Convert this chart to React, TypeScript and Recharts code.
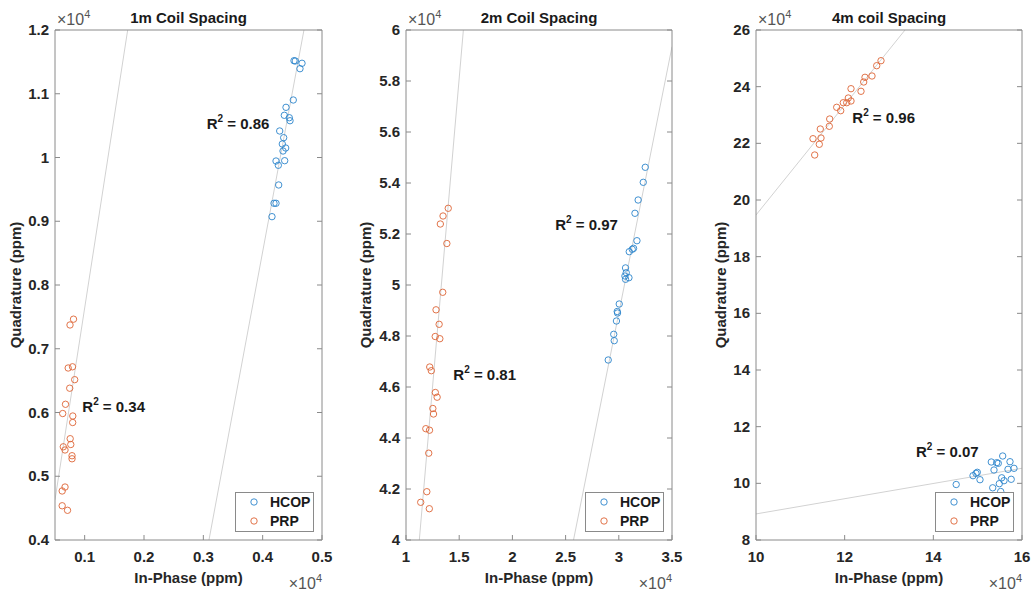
import React from 'react';
import {
  ScatterChart,
  Scatter,
  XAxis,
  YAxis,
  ReferenceLine,
  ReferenceDot,
  Legend
} from 'recharts';

const font = '"Liberation Sans", Arial, Helvetica, sans-serif';
const textColor = '#262626';
const axisColor = '#8a8a8a';
const hcopColor = '#2b84cc';
const prpColor = '#de6436';
const fitColor = '#d2d2d2';

const seriesNames = ['HCOP', 'PRP'];
const panelTitles = ['1m Coil Spacing', '2m Coil Spacing', '4m coil Spacing'];

// 1m coil spacing
const hcop1mX = [4528, 4550, 4663, 4629, 4516, 4393, 4365, 4449, 4461, 4287, 4354, 4331, 4388, 4343, 4371, 4225, 4264, 4270, 4191, 4225, 4157];
const hcop1mY = [11518, 11514, 11478, 11393, 10902, 10787, 10662, 10624, 10577, 10416, 10311, 10212, 10149, 10102, 9950, 9945, 9878, 9569, 9282, 9282, 9072];
const prp1mX = [812, 753, 795, 722, 832, 748, 677, 630, 800, 798, 756, 766, 640, 669, 787, 787, 669, 621, 621, 711];
const prp1mY = [7464, 7373, 6717, 6698, 6515, 6381, 6129, 5984, 5945, 5843, 5589, 5498, 5462, 5412, 5322, 5274, 4831, 4769, 4537, 4466];
const fit1mHcop = [{ x: 3095, y: 4000 }, { x: 4696, y: 12000 }];
const fit1mPrp = [{ x: 500, y: 4630 }, { x: 1725, y: 12000 }];
const ticks1mX = [1000, 2000, 3000, 4000, 5000];
const ticks1mY = [4000, 5000, 6000, 7000, 8000, 9000, 10000, 11000, 12000];

// 2m coil spacing
const hcop2mX = [32487, 32299, 31818, 31518, 31706, 31387, 31264, 30982, 30634, 30700, 30954, 30577, 30634, 30041, 29853, 29881, 29778, 29524, 29571, 29006];
const hcop2mY = [54616, 54027, 53333, 52812, 51737, 51439, 51400, 51306, 50670, 50482, 50286, 50353, 50224, 49255, 48961, 48902, 48588, 48067, 47816, 47059];
const prp2mX = [13971, 13481, 13227, 13839, 13453, 12823, 13114, 12747, 13180, 12230, 12380, 12757, 12926, 12522, 12587, 11863, 12211, 12136, 11957, 11383, 12192];
const prp2mY = [53008, 52706, 52392, 51627, 49714, 49027, 48459, 47980, 47894, 46784, 46639, 45784, 45600, 45157, 44941, 44365, 44306, 43404, 41894, 41478, 41227];
const fit2mHcop = [{ x: 25743, y: 40000 }, { x: 35000, y: 59345 }];
const fit2mPrp = [{ x: 11252, y: 40000 }, { x: 15392, y: 60000 }];
const ticks2mX = [10000, 15000, 20000, 25000, 30000, 35000];
const ticks2mY = [40000, 42000, 44000, 46000, 48000, 50000, 52000, 54000, 56000, 58000, 60000];

// 4m coil spacing
const hcop4mX = [155646, 157292, 153075, 154293, 154654, 153683, 156841, 158194, 149917, 149623, 148947, 150525, 155421, 155939, 157564, 154879, 145157, 153391, 155195];
const hcop4mY = [109648, 107636, 107530, 107283, 107071, 104706, 104953, 105306, 103894, 103541, 102694, 101283, 101953, 100930, 101424, 99871, 99587, 98424, 97119];
const prp4mX = [128195, 127225, 126165, 124586, 124293, 123684, 121428, 120819, 121428, 120458, 119691, 118203, 119105, 116624, 116534, 114503, 112857, 114661, 114278, 113240];
const prp4mY = [249165, 247400, 243765, 243306, 241647, 238365, 239282, 236000, 234941, 234341, 234341, 232718, 231518, 228588, 226012, 225059, 221635, 221882, 219659, 215882];
const fit4mHcop = [{ x: 100000, y: 89200 }, { x: 160000, y: 105320 }];
const fit4mPrp = [{ x: 100000, y: 194710 }, { x: 133614, y: 260000 }];
const ticks4mX = [100000, 120000, 140000, 160000];
const ticks4mY = [80000, 100000, 120000, 140000, 160000, 180000, 200000, 220000, 240000, 260000];

// R² annotations: value, x, y (data units)
const r2Text = [['0.86', '0.34'], ['0.97', '0.81'], ['0.96', '0.07']];
const r2X = [[3057, 960], [24020, 14451], [121722, 136090]];
const r2Y = [[10447, 6013], [52157, 46275], [227071, 109400]];

const zip = (xs: number[], ys: number[]) => xs.map((x, i) => ({ x, y: ys[i] }));
const fmt = (v: number) => String(+(v / 1e4).toFixed(2));

const BottomTick = (p: any) => (
  <g>
    <line x1={p.x} y1={p.y} x2={p.x} y2={p.y - 5} stroke={axisColor} />
    <text x={p.x} y={p.y + 22} textAnchor="middle" fontFamily={font} fontWeight="bold" fontSize={15} fill={textColor}>
      {fmt(p.payload.value)}
    </text>
  </g>
);
const TopTick = (p: any) => <line x1={p.x} y1={p.y} x2={p.x} y2={p.y + 5} stroke={axisColor} />;
const LeftTick = (p: any) => (
  <g>
    <line x1={p.x} y1={p.y} x2={p.x + 5} y2={p.y} stroke={axisColor} />
    <text x={p.x - 6} y={p.y + 5} textAnchor="end" fontFamily={font} fontWeight="bold" fontSize={15} fill={textColor}>
      {fmt(p.payload.value)}
    </text>
  </g>
);
const RightTick = (p: any) => <line x1={p.x} y1={p.y} x2={p.x - 5} y2={p.y} stroke={axisColor} />;

const Ring = (color: string) => (p: any) => (
  <circle cx={p.cx} cy={p.cy} r={3.2} fill="none" stroke={color} strokeWidth={0.9} />
);

const R2 = (value: string) => (p: any) => (
  <text x={p.cx} y={p.cy} fontFamily={font} fontWeight="bold" fontSize={15} fill="#1a1a1a">
    R<tspan dy={-7} fontSize={10}>2</tspan>
    <tspan dy={7}>{' = ' + value}</tspan>
  </text>
);

const LegendBox = () => (
  <svg width={79} height={40}>
    <rect x={0.5} y={0.5} width={78} height={39} fill="#fff" stroke={axisColor} />
    {seriesNames.map((name, i) => (
      <g key={name}>
        <circle cx={19} cy={10 + i * 19} r={3.2} fill="none" stroke={i === 0 ? hcopColor : prpColor} strokeWidth={0.9} />
        <text x={35} y={15 + i * 19} fontFamily={font} fontWeight="bold" fontSize={14} fill="#1a1a1a">
          {name}
        </text>
      </g>
    ))}
  </svg>
);

const Times10 = ({ x, y, anchor }: { x: number; y: number; anchor: 'start' | 'end' }) => (
  <text x={x} y={y} textAnchor={anchor} fontFamily={font} fontSize={16} fill="#555">
    ×10<tspan dy={-7} fontSize={11}>4</tspan>
  </text>
);

type PanelProps = {
  idx: number;
  left: number;
  width: number;
  plot: { top: number; right: number; bottom: number; left: number };
  xDomain: [number, number];
  yDomain: [number, number];
  xTicks: number[];
  yTicks: number[];
  hcop: { x: number; y: number }[];
  prp: { x: number; y: number }[];
  fits: { x: number; y: number }[][];
  yLabelGap: number;
};

const Panel = (props: PanelProps) => {
  const { idx, left, width, plot, xDomain, yDomain, xTicks, yTicks, hcop, prp, fits, yLabelGap } = props;
  const height = 592;
  // every axis takes 1px, so the margins are one pixel smaller than the plot insets
  const margin = { top: plot.top - 1, right: plot.right - 1, bottom: plot.bottom - 1, left: plot.left - 1 };
  const plotW = width - plot.left - plot.right;
  const plotBottom = height - plot.bottom;
  const cx = plot.left + plotW / 2;
  const cy = plot.top + (plotBottom - plot.top) / 2;
  return (
    <div style={{ position: 'absolute', left, top: 0, width, height }}>
      <ScatterChart width={width} height={height} margin={margin}>
        <XAxis type="number" dataKey="x" domain={xDomain} ticks={xTicks} interval={0} allowDataOverflow
          height={1} tickSize={0} tickMargin={0} tick={BottomTick} tickLine={false} axisLine={{ stroke: axisColor }} />
        <XAxis type="number" xAxisId="top" orientation="top" domain={xDomain} ticks={xTicks} interval={0} allowDataOverflow
          height={1} tickSize={0} tickMargin={0} tick={TopTick} tickLine={false} axisLine={{ stroke: axisColor }} />
        <YAxis type="number" dataKey="y" domain={yDomain} ticks={yTicks} interval={0} allowDataOverflow
          width={1} tickSize={0} tickMargin={0} tick={LeftTick} tickLine={false} axisLine={{ stroke: axisColor }} />
        <YAxis type="number" yAxisId="right" orientation="right" domain={yDomain} ticks={yTicks} interval={0} allowDataOverflow
          width={1} tickSize={0} tickMargin={0} tick={RightTick} tickLine={false} axisLine={{ stroke: axisColor }} />
        {fits.map((seg, i) => (
          <ReferenceLine key={i} segment={seg} ifOverflow="hidden" stroke={fitColor} strokeWidth={1} />
        ))}
        <Scatter name="HCOP" data={hcop} fill={hcopColor} shape={Ring(hcopColor)} isAnimationActive={false} />
        <Scatter name="PRP" data={prp} fill={prpColor} shape={Ring(prpColor)} isAnimationActive={false} />
        {r2Text[idx].map((v, i) => (
          <ReferenceDot key={v} x={r2X[idx][i]} y={r2Y[idx][i]} r={0} shape={R2(v)} />
        ))}
        <Legend layout="vertical" align="center" verticalAlign="middle" content={LegendBox}
          wrapperStyle={{ left: plot.left + plotW - 87, top: plotBottom - 48, width: 79, height: 40 }} />
      </ScatterChart>
      <svg width={width} height={height} style={{ position: 'absolute', left: 0, top: 0, pointerEvents: 'none' }}>
        <text x={cx} y={23} textAnchor="middle" fontFamily={font} fontWeight="bold" fontSize={15} fill="#1a1a1a">
          {panelTitles[idx]}
        </text>
        <Times10 x={plot.left + 2} y={25} anchor="start" />
        <Times10 x={plot.left + plotW} y={589} anchor="end" />
        <text x={cx} y={583} textAnchor="middle" fontFamily={font} fontWeight="bold" fontSize={15} fill={textColor}>
          In-Phase (ppm)
        </text>
        <text x={plot.left - yLabelGap} y={cy} textAnchor="middle" transform={`rotate(-90 ${plot.left - yLabelGap} ${cy})`}
          fontFamily={font} fontWeight="bold" fontSize={15} fill={textColor}>
          Quadrature (ppm)
        </text>
      </svg>
    </div>
  );
};

export default function App() {
  return (
    <div style={{ position: 'absolute', left: 0, top: 0, width: 1033, height: 592, background: '#fff' }}>
      <Panel idx={0} left={0} width={340} plot={{ top: 30, right: 18, bottom: 52, left: 55 }}
        xDomain={[500, 5000]} yDomain={[4000, 12000]} xTicks={ticks1mX} yTicks={ticks1mY}
        hcop={zip(hcop1mX, hcop1mY)} prp={zip(prp1mX, prp1mY)} fits={[fit1mPrp, fit1mHcop]} yLabelGap={34} />
      <Panel idx={1} left={345} width={345} plot={{ top: 30, right: 18, bottom: 52, left: 61 }}
        xDomain={[10000, 35000]} yDomain={[40000, 60000]} xTicks={ticks2mX} yTicks={ticks2mY}
        hcop={zip(hcop2mX, hcop2mY)} prp={zip(prp2mX, prp2mY)} fits={[fit2mPrp, fit2mHcop]} yLabelGap={35} />
      <Panel idx={2} left={695} width={338} plot={{ top: 30, right: 11, bottom: 52, left: 61 }}
        xDomain={[100000, 160000]} yDomain={[80000, 260000]} xTicks={ticks4mX} yTicks={ticks4mY}
        hcop={zip(hcop4mX, hcop4mY)} prp={zip(prp4mX, prp4mY)} fits={[fit4mPrp, fit4mHcop]} yLabelGap={30} />
    </div>
  );
}
